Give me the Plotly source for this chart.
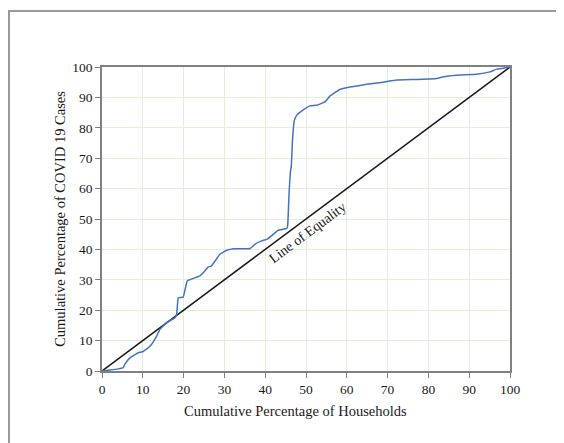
import plotly.graph_objects as go

# Lorenz curve data
households_pct = [0, 2.0, 4.0, 5.2, 5.6, 6.9, 8.9, 10.1, 11.8, 13.4, 14.2, 15.8, 17.9, 18.3, 18.7,
                  19.9, 20.9, 24.0, 25.2, 26.0, 26.8, 28.9, 30.6, 32.2, 36.3, 37.5, 39.1, 40.4,
                  42.0, 43.2, 45.3, 45.5, 45.9, 46.2, 46.4, 46.7, 47.1, 47.7, 48.9, 51.0, 52.6,
                  54.7, 55.9, 58.3, 60.8, 64.9, 68.9, 72.2, 77.1, 82.0, 83.7, 86.9, 91.8, 95.1,
                  96.7, 98.3, 100]
cases_pct = [0, 0.3, 0.7, 1.1, 2.2, 4.4, 6.0, 6.4, 8.2, 11.5, 13.7, 15.9, 17.5, 18.6, 24.1,
             24.3, 29.6, 31.3, 32.9, 34.2, 34.5, 38.4, 39.7, 40.2, 40.3, 41.7, 42.8, 43.3,
             45.0, 46.3, 46.9, 47.7, 59.8, 65.8, 67.4, 76.2, 82.2, 84.1, 85.5, 87.2, 87.4,
             88.6, 90.5, 92.6, 93.4, 94.3, 95.0, 95.7, 95.9, 96.2, 96.8, 97.3, 97.6, 98.4,
             99.3, 99.6, 100]
equality_x = [0, 100]
equality_y = [0, 100]
tick_vals = [0, 10, 20, 30, 40, 50, 60, 70, 80, 90, 100]

fig = go.Figure()
fig.add_trace(go.Scatter(x=equality_x, y=equality_y, mode="lines",
                         line=dict(color="#1a1a1a", width=1.5), showlegend=False))
fig.add_trace(go.Scatter(x=households_pct, y=cases_pct, mode="lines",
                         line=dict(color="#4472C4", width=1.5, shape="spline", smoothing=0.3),
                         showlegend=False))

fig.add_annotation(x=50.5, y=45.4, xref="x", yref="y", text="Line of Equality",
                   showarrow=False, textangle=-36.7,
                   font=dict(family="Liberation Serif", size=14, color="#1a1a1a"))

# x-axis title (slightly left of centre, as in the original)
fig.add_annotation(x=0.475, y=-0.132, xref="paper", yref="paper",
                   text="Cumulative Percentage of Households", showarrow=False,
                   xanchor="center", yanchor="middle",
                   font=dict(family="Liberation Serif", size=14.5, color="#1a1a1a"))

# outer frame
fig.add_shape(type="rect", xref="paper", yref="paper", x0=-0.228, y0=-0.26, x1=1.16, y1=1.184,
              line=dict(color="#999999", width=2), fillcolor="rgba(0,0,0,0)", layer="below")

axis_common = dict(range=[0, 100], tickvals=tick_vals, showgrid=True, gridcolor="#e3efd8",
                   gridwidth=1, showline=True, linecolor="#808080", linewidth=1.5, mirror=True,
                   ticks="outside", ticklen=5, tickcolor="#808080", zeroline=False,
                   tickfont=dict(family="Liberation Serif", size=13.5, color="#1a1a1a"))

fig.update_layout(
    width=564, height=443,
    margin=dict(l=94, r=62, t=59, b=80),
    paper_bgcolor="white", plot_bgcolor="white",
    font=dict(family="Liberation Serif", color="#1a1a1a"),
    xaxis=dict(**axis_common),
    yaxis=dict(**axis_common,
               title=dict(text="Cumulative Percentage of COVID 19 Cases",
                          font=dict(family="Liberation Serif", size=14.5), standoff=3)),
)

fig.write_html("out.html")
